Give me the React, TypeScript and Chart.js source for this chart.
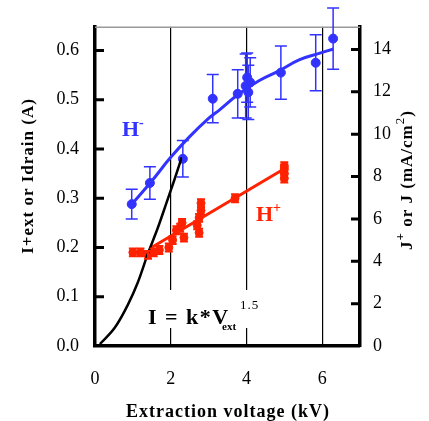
import React, { useEffect, useRef } from "react";
import { Chart, registerables } from "chart.js";

Chart.register(...registerables);

// H- beam: measured points with error bars
const hMinusX = [0.97, 1.45, 2.32, 3.11, 3.77, 3.98, 4.02, 4.05, 4.1, 4.91, 5.83, 6.29];
const hMinusY = [0.288, 0.331, 0.38, 0.502, 0.512, 0.528, 0.545, 0.515, 0.535, 0.555, 0.575, 0.624];
const hMinusErr = [0.03, 0.033, 0.037, 0.049, 0.049, 0.065, 0.05, 0.055, 0.05, 0.054, 0.057, 0.062];

// H- fit curve
const hMinusFitX = [1.0, 1.5, 2.0, 2.5, 3.0, 3.3, 3.77, 4.34, 4.87, 5.39, 5.92, 6.3];
const hMinusFitY = [0.29, 0.335, 0.383, 0.425, 0.462, 0.48, 0.51, 0.539, 0.559, 0.581, 0.594, 0.603];

// H+ beam points
const hPlusX = [1.0, 1.2, 1.4, 1.55, 1.7, 1.95, 2.05, 2.15, 2.25, 2.3, 2.35, 2.7, 2.75, 2.75, 2.8, 2.8, 3.7, 5.0, 5.0, 5.0, 5.0];
const hPlusY = [0.19, 0.19, 0.185, 0.19, 0.195, 0.2, 0.215, 0.235, 0.24, 0.25, 0.22, 0.245, 0.26, 0.23, 0.275, 0.29, 0.3, 0.34, 0.35, 0.36, 0.365];
const hPlusErr = 0.008;

// H+ fit line
const hPlusFitX = [1.45, 5.0];
const hPlusFitY = [0.198, 0.36];

// Child-Langmuir curve I = k*V^1.5
const clX = [0.13, 0.53, 0.87, 1.13, 1.4, 1.66, 1.89, 2.1, 2.29];
const clY = [0.004, 0.038, 0.084, 0.129, 0.188, 0.24, 0.291, 0.338, 0.383];

// Axes
const xTicks = [0, 2, 4, 6];
const yTicks = [0, 0.1, 0.2, 0.3, 0.4, 0.5, 0.6];
const y2Ticks = [0, 2, 4, 6, 8, 10, 12, 14];
const yMax = 0.648;
const y2Ratio = 23.25;

const BLUE = "#3333ff";
const RED = "#ff2200";
const SERIF = "'Liberation Serif', 'DejaVu Serif', serif";

type Seg = { t: string; f: string; dy?: number };

function drawSegs(
  ctx: CanvasRenderingContext2D,
  segs: Seg[],
  x: number,
  y: number,
  rot: number,
  color: string,
  align: "center" | "left" = "center",
  spacing = "0px"
) {
  ctx.save();
  ctx.translate(x, y);
  ctx.rotate(rot);
  ctx.fillStyle = color;
  ctx.textBaseline = "alphabetic";
  ctx.textAlign = "left";
  (ctx as any).letterSpacing = spacing;
  let total = 0;
  for (const s of segs) {
    ctx.font = s.f;
    total += ctx.measureText(s.t).width;
  }
  let cx = align === "center" ? -total / 2 : 0;
  for (const s of segs) {
    ctx.font = s.f;
    ctx.fillText(s.t, cx, s.dy || 0);
    cx += ctx.measureText(s.t).width;
  }
  ctx.restore();
}

const decorPlugin = {
  id: "decor",
  beforeDatasetsDraw(chart: any) {
    const ctx = chart.ctx as CanvasRenderingContext2D;
    const a = chart.chartArea;
    ctx.save();
    ctx.fillStyle = "#ffffff";
    ctx.fillRect(140, 290, 125, 38);
    ctx.strokeStyle = "#999999";
    ctx.lineWidth = 1.5;
    ctx.beginPath();
    ctx.moveTo(a.left, a.top + 0.5);
    ctx.lineTo(a.right, a.top + 0.5);
    ctx.stroke();
    ctx.restore();
  },
  afterDatasetsDraw(chart: any) {
    const ctx = chart.ctx as CanvasRenderingContext2D;
    const xs = chart.scales.x;
    const ys = chart.scales.y;
    const y2 = chart.scales.y2;
    const a = chart.chartArea;
    ctx.save();
    ctx.strokeStyle = BLUE;
    ctx.lineWidth = 1.5;
    hMinusX.forEach((xv, i) => {
      const px = xs.getPixelForValue(xv);
      const top = ys.getPixelForValue(hMinusY[i] + hMinusErr[i]);
      const bot = ys.getPixelForValue(hMinusY[i] - hMinusErr[i]);
      ctx.beginPath();
      ctx.moveTo(px, top);
      ctx.lineTo(px, bot);
      ctx.moveTo(px - 6, top);
      ctx.lineTo(px + 6, top);
      ctx.moveTo(px - 6, bot);
      ctx.lineTo(px + 6, bot);
      ctx.stroke();
    });
    ctx.strokeStyle = RED;
    ctx.lineWidth = 2;
    hPlusX.forEach((xv, i) => {
      const px = xs.getPixelForValue(xv);
      const top = ys.getPixelForValue(hPlusY[i] + hPlusErr);
      const bot = ys.getPixelForValue(hPlusY[i] - hPlusErr);
      ctx.beginPath();
      ctx.moveTo(px, top);
      ctx.lineTo(px, bot);
      ctx.moveTo(px - 4, top);
      ctx.lineTo(px + 4, top);
      ctx.moveTo(px - 4, bot);
      ctx.lineTo(px + 4, bot);
      ctx.stroke();
    });
    ctx.strokeStyle = "#000";
    ctx.lineWidth = 3;
    ctx.beginPath();
    yTicks.forEach((v) => {
      if (v === 0) return;
      const py = ys.getPixelForValue(v);
      ctx.moveTo(a.left, py);
      ctx.lineTo(a.left + 9, py);
    });
    y2Ticks.forEach((v) => {
      if (v === 0) return;
      const py = y2.getPixelForValue(v);
      ctx.moveTo(a.right, py);
      ctx.lineTo(a.right - 9, py);
    });
    ctx.stroke();
    ctx.restore();

    // Titles
    drawSegs(ctx, [{ t: "Extraction voltage (kV)", f: `bold 18px ${SERIF}` }], 228, 417, 0, "#000", "center", "1px");
    drawSegs(ctx, [{ t: "I+ext or Idrain (A)", f: `bold 17px ${SERIF}` }], 33, 176, -Math.PI / 2, "#000", "center", "1px");
    drawSegs(
      ctx,
      [
        { t: "J", f: `bold 17px ${SERIF}` },
        { t: "+", f: `bold 13px ${SERIF}`, dy: -8 },
        { t: " or J (mA/cm", f: `bold 17px ${SERIF}` },
        { t: "2", f: `13px ${SERIF}`, dy: -8 },
        { t: ")", f: `bold 17px ${SERIF}` },
      ],
      412,
      180,
      -Math.PI / 2,
      "#000",
      "center",
      "1px"
    );
    // Series labels
    drawSegs(ctx, [{ t: "H", f: `bold 22px ${SERIF}` }, { t: "-", f: `bold 14px ${SERIF}`, dy: -9 }], 122, 136, 0, BLUE, "left");
    drawSegs(ctx, [{ t: "H", f: `bold 22px ${SERIF}` }, { t: "+", f: `bold 14px ${SERIF}`, dy: -9 }], 256, 221, 0, RED, "left");
    // Formula
    drawSegs(
      ctx,
      [{ t: "I = k*V", f: `bold 22px ${SERIF}` }],
      148,
      324,
      0,
      "#000",
      "left",
      "1.5px"
    );
    drawSegs(ctx, [{ t: "ext", f: `bold 11px ${SERIF}` }], 222, 330, 0, "#000", "left");
    drawSegs(ctx, [{ t: "1.5", f: `13px ${SERIF}` }], 240, 309, 0, "#000", "left", "1px");
  },
};

export default function App() {
  const ref = useRef<HTMLCanvasElement>(null);
  useEffect(() => {
    if (!ref.current) return;
    const tickFont = { family: SERIF, size: 18 };
    const chart = new Chart(ref.current, {
      type: "scatter",
      data: {
        datasets: [
          {
            type: "line",
            data: clX.map((x, i) => ({ x, y: clY[i] })),
            borderColor: "#000",
            borderWidth: 2.5,
            pointRadius: 0,
            cubicInterpolationMode: "monotone",
            yAxisID: "y",
          } as any,
          {
            type: "line",
            data: hMinusFitX.map((x, i) => ({ x, y: hMinusFitY[i] })),
            borderColor: BLUE,
            borderWidth: 3,
            pointRadius: 0,
            tension: 0.4,
            yAxisID: "y",
          } as any,
          {
            type: "line",
            data: hPlusFitX.map((x, i) => ({ x, y: hPlusFitY[i] })),
            borderColor: RED,
            borderWidth: 3,
            pointRadius: 0,
            yAxisID: "y",
          } as any,
          {
            data: hMinusX.map((x, i) => ({ x, y: hMinusY[i] })),
            backgroundColor: BLUE,
            borderColor: BLUE,
            pointRadius: 4.5,
            yAxisID: "y",
          },
          {
            data: hPlusX.map((x, i) => ({ x, y: hPlusY[i] })),
            backgroundColor: RED,
            borderColor: RED,
            pointRadius: 4,
            yAxisID: "y",
          },
        ],
      },
      options: {
        animation: false,
        responsive: false,
        events: [],
        layout: { padding: { top: 14, left: 0, right: 0, bottom: 0 } },
        plugins: { legend: { display: false }, tooltip: { enabled: false } },
        scales: {
          x: {
            type: "linear",
            min: 0,
            max: 7,
            afterBuildTicks: (s: any) => {
              s.ticks = xTicks.map((v) => ({ value: v }));
            },
            afterFit: (s: any) => {
              s.height = 75;
            },
            ticks: { font: tickFont, color: "#000", padding: 22, callback: (v: any) => String(v) },
            grid: { color: "#000", lineWidth: 1.2, drawTicks: false },
            border: { display: true, width: 3.5, color: "#000" },
          },
          y: {
            position: "left",
            min: 0,
            max: yMax,
            afterBuildTicks: (s: any) => {
              s.ticks = yTicks.map((v) => ({ value: v }));
            },
            afterFit: (s: any) => {
              s.width = 95;
            },
            ticks: { font: tickFont, color: "#000", padding: 16, callback: (v: any) => Number(v).toFixed(1) },
            grid: { display: false, drawTicks: false },
            border: { display: true, width: 3.5, color: "#000" },
          },
          y2: {
            position: "right",
            min: 0,
            max: yMax * y2Ratio,
            afterBuildTicks: (s: any) => {
              s.ticks = y2Ticks.map((v) => ({ value: v }));
            },
            afterFit: (s: any) => {
              s.width = 69;
            },
            ticks: { font: tickFont, color: "#000", padding: 13, callback: (v: any) => String(v) },
            grid: { display: false, drawTicks: false },
            border: { display: true, width: 3.5, color: "#000" },
          },
        },
      } as any,
      plugins: [decorPlugin],
    });
    return () => chart.destroy();
  }, []);
  return (
    <div style={{ position: "absolute", left: 0, top: 0, width: 429, height: 421, background: "#fff" }}>
      <canvas ref={ref} width={429} height={421} style={{ width: 429, height: 421, display: "block" }} />
    </div>
  );
}
